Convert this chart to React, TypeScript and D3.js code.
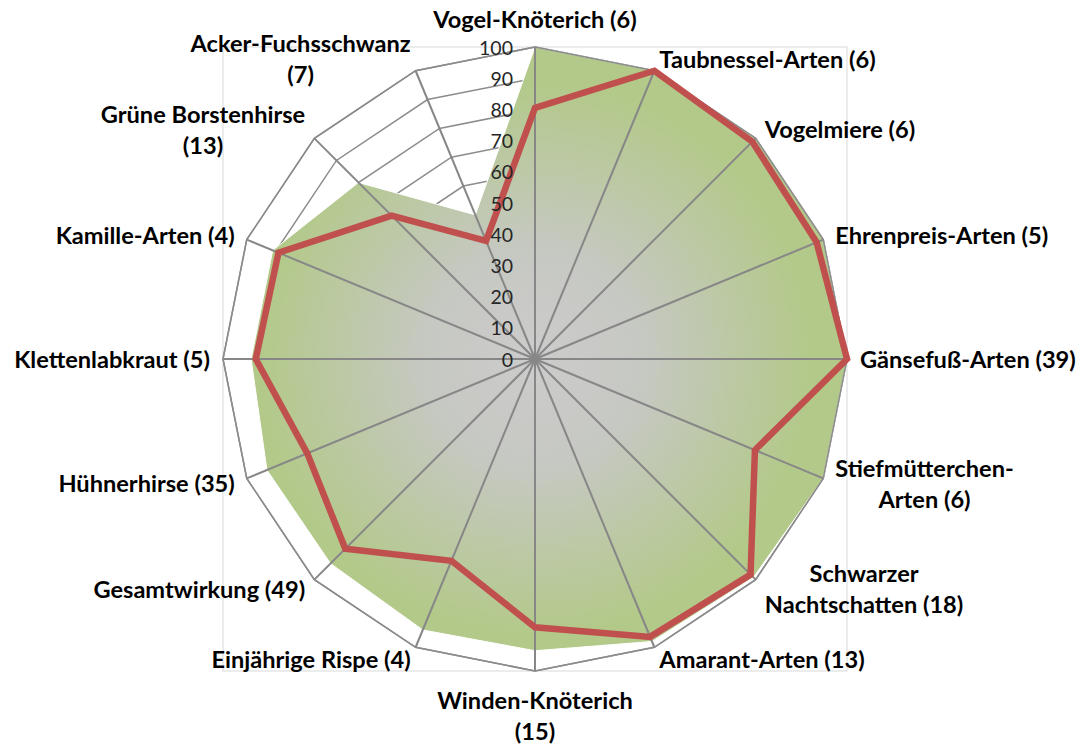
import React, { useEffect, useRef } from 'react';
import * as d3 from 'd3';

// categories clockwise from the top, "\n" marks where the label wraps
const categories = [
  'Vogel-Knöterich (6)',
  'Taubnessel-Arten (6)',
  'Vogelmiere (6)',
  'Ehrenpreis-Arten (5)',
  'Gänsefuß-Arten (39)',
  'Stiefmütterchen-\nArten (6)',
  'Schwarzer\nNachtschatten (18)',
  'Amarant-Arten (13)',
  'Winden-Knöterich\n(15)',
  'Einjährige Rispe (4)',
  'Gesamtwirkung (49)',
  'Hühnerhirse (35)',
  'Klettenlabkraut (5)',
  'Kamille-Arten (4)',
  'Grüne Borstenhirse\n(13)',
  'Acker-Fuchsschwanz\n(7)',
];

// green filled series
const areaValues = [100, 100, 100, 100, 100, 100, 99, 98, 93.5, 94, 92.7, 93, 91, 91, 80, 50];

// red line series
const lineValues = [80.5, 100, 98.5, 97.7, 100, 76.3, 97.7, 96.4, 86, 70, 86, 79, 89.5, 89, 65, 41];

const tickValues = [0, 10, 20, 30, 40, 50, 60, 70, 80, 90, 100];

const W = 1079;
const H = 744;
const cx = 535;
const cy = 359;
const R = 312;
const LABEL_FONT = 'Lato, "Open Sans", sans-serif';

const App = () => {
  const svgRef = useRef<SVGSVGElement>(null);

  useEffect(() => {
    if (!svgRef.current) return;
    const svg = d3.select(svgRef.current);
    svg.selectAll('*').remove();

    const n = categories.length;
    const r = d3.scaleLinear().domain([0, 100]).range([0, R]);
    const angle = d3.scaleLinear().domain([0, n]).range([0, 2 * Math.PI]);

    // gray centre fading to green at the rim (path lives in the translated group)
    const defs = svg.append('defs');
    const grad = defs
      .append('radialGradient')
      .attr('id', 'areaFill')
      .attr('gradientUnits', 'userSpaceOnUse')
      .attr('cx', 0)
      .attr('cy', 0)
      .attr('r', R);
    grad.append('stop').attr('offset', '0%').attr('stop-color', '#cccccc');
    grad.append('stop').attr('offset', '35%').attr('stop-color', '#c6c8c2');
    grad.append('stop').attr('offset', '88%').attr('stop-color', '#b3c98a');

    // plot area border
    svg
      .append('rect')
      .attr('x', cx - R)
      .attr('y', cy - R)
      .attr('width', 2 * R)
      .attr('height', 2 * R)
      .attr('fill', 'none')
      .attr('stroke', '#d9d9d9')
      .attr('stroke-width', 1);

    const g = svg.append('g').attr('transform', `translate(${cx},${cy})`);

    const ringLine = (v: number) =>
      d3
        .lineRadial<string>()
        .angle((_, i) => angle(i))
        .radius(() => r(v))
        .curve(d3.curveLinearClosed)(categories);

    // web rings (under the fill)
    g.append('g')
      .selectAll('path')
      .data(tickValues.filter((t) => t > 0))
      .enter()
      .append('path')
      .attr('d', (t) => ringLine(t))
      .attr('fill', 'none')
      .attr('stroke', '#8c8c8c')
      .attr('stroke-width', 1.5);

    // green area
    const valueLine = d3
      .lineRadial<number>()
      .angle((_, i) => angle(i))
      .radius((d) => r(d))
      .curve(d3.curveLinearClosed);

    g.append('path')
      .attr('d', valueLine(areaValues))
      .attr('fill', 'url(#areaFill)')
      .attr('stroke', '#ffffff')
      .attr('stroke-width', 1);

    // spokes
    g.append('g')
      .selectAll('line')
      .data(categories)
      .enter()
      .append('line')
      .attr('x1', 0)
      .attr('y1', 0)
      .attr('x2', (_, i) => r(100) * Math.sin(angle(i)))
      .attr('y2', (_, i) => -r(100) * Math.cos(angle(i)))
      .attr('stroke', '#878787')
      .attr('stroke-width', 2);

    // outer ring on top
    g.append('path')
      .attr('d', ringLine(100))
      .attr('fill', 'none')
      .attr('stroke', '#8c8c8c')
      .attr('stroke-width', 1.5);

    // red line
    g.append('path')
      .attr('d', valueLine(lineValues))
      .attr('fill', 'none')
      .attr('stroke', '#c0504d')
      .attr('stroke-width', 6.5)
      .attr('stroke-linejoin', 'miter');

    // tick labels along the top spoke
    g.append('g')
      .selectAll('text')
      .data(tickValues)
      .enter()
      .append('text')
      .attr('x', -22)
      .attr('y', (t) => -r(t))
      .attr('text-anchor', 'end')
      .attr('dominant-baseline', 'central')
      .attr('font-family', LABEL_FONT)
      .attr('font-size', 19.5)
      .attr('fill', '#262626')
      .text((t) => t);

    // category labels
    const gap = 13;
    const lineH = 31;
    categories.forEach((label, i) => {
      const a = angle(i);
      const s = Math.sin(a);
      const c = Math.cos(a);
      const px = r(100) * s;
      const py = -r(100) * c;
      const lines = label.split('\n');

      const text = g
        .append('text')
        .attr('font-family', LABEL_FONT)
        .attr('font-weight', 700)
        .attr('font-size', 23.6)
        .attr('fill', '#000000')
        .attr('text-anchor', 'middle');

      const spans = lines.map((ln) => text.append('tspan').text(ln));
      const w = d3.max(spans, (sp) => (sp.node() as SVGTSpanElement).getComputedTextLength()) || 0;
      const h = lines.length * lineH;

      let bx: number;
      let by: number;
      if (Math.abs(s) < 0.01) {
        bx = px;
        by = c > 0 ? py - gap - h / 2 : py + gap + h / 2;
      } else {
        bx = s > 0 ? px + s * gap + w / 2 : px + s * gap - w / 2;
        by = py - c * gap;
      }

      spans.forEach((sp, j) => {
        sp.attr('x', bx)
          .attr('y', by + (j - (lines.length - 1) / 2) * lineH)
          .attr('dominant-baseline', 'central');
      });
    });
  }, []);

  return (
    <div style={{ position: 'absolute', left: 0, top: 0, width: W, height: H, background: '#ffffff' }}>
      <svg ref={svgRef} width={W} height={H} style={{ display: 'block' }} />
    </div>
  );
};

export default App;
